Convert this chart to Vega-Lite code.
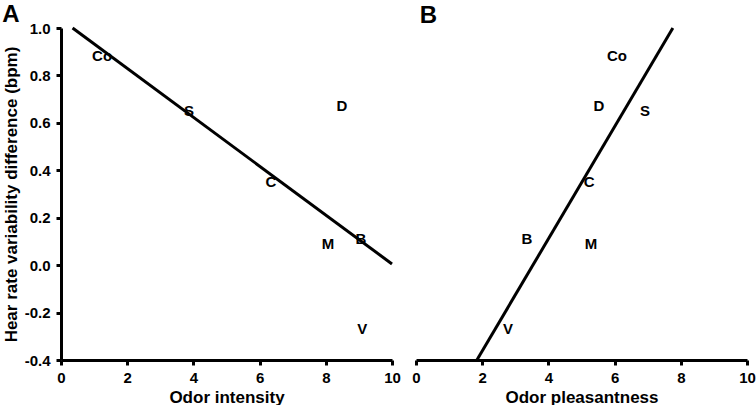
{
  "$schema": "https://vega.github.io/schema/vega-lite/v6.json",
  "background": "white",
  "padding": {"left": 2, "top": 3, "right": 0, "bottom": 0},
  "spacing": 10,
  "datasets": {
    "pointsA": [
      {"x": 1.24, "y": 0.88, "label": "Co"},
      {"x": 3.87, "y": 0.65, "label": "S"},
      {"x": 8.49, "y": 0.67, "label": "D"},
      {"x": 6.34, "y": 0.35, "label": "C"},
      {"x": 8.07, "y": 0.09, "label": "M"},
      {"x": 9.06, "y": 0.11, "label": "B"},
      {"x": 9.1, "y": -0.27, "label": "V"}
    ],
    "lineA": [
      {"x": 0.35, "y": 1.0},
      {"x": 10.0, "y": 0.005}
    ],
    "pointsB": [
      {"x": 6.07, "y": 0.88, "label": "Co"},
      {"x": 5.53, "y": 0.67, "label": "D"},
      {"x": 6.92, "y": 0.65, "label": "S"},
      {"x": 5.23, "y": 0.35, "label": "C"},
      {"x": 3.35, "y": 0.11, "label": "B"},
      {"x": 5.29, "y": 0.09, "label": "M"},
      {"x": 2.78, "y": -0.27, "label": "V"}
    ],
    "lineB": [
      {"x": 1.84, "y": -0.4},
      {"x": 7.76, "y": 1.0}
    ]
  },
  "hconcat": [
    {
      "width": 331,
      "height": 332,
      "title": {"text": "A", "anchor": "start", "dx": 0, "fontSize": 24, "fontWeight": "bold", "offset": -6},
      "layer": [
        {
          "data": {"name": "lineA"},
          "mark": {"type": "line", "color": "black", "strokeWidth": 3},
          "encoding": {
            "x": {"field": "x", "type": "quantitative", "scale": {"domain": [0, 10], "nice": false}, "axis": {"values": [0, 2, 4, 6, 8, 10], "title": "Odor intensity"}},
            "y": {"field": "y", "type": "quantitative", "scale": {"domain": [-0.4, 1.0], "nice": false, "zero": false}, "axis": {"values": [-0.4, -0.2, 0, 0.2, 0.4, 0.6, 0.8, 1.0], "format": ".1f", "title": "Hear rate variability difference (bpm)"}}
          }
        },
        {
          "data": {"name": "pointsA"},
          "mark": {"type": "text", "fontWeight": "bold", "fontSize": 15, "font": "Liberation Sans", "color": "black"},
          "encoding": {
            "x": {"field": "x", "type": "quantitative"},
            "y": {"field": "y", "type": "quantitative"},
            "text": {"field": "label"}
          }
        }
      ]
    },
    {
      "width": 331,
      "height": 332,
      "title": {"text": "B", "anchor": "start", "dx": 8, "fontSize": 24, "fontWeight": "bold", "offset": -6},
      "layer": [
        {
          "data": {"name": "lineB"},
          "mark": {"type": "line", "color": "black", "strokeWidth": 3},
          "encoding": {
            "x": {"field": "x", "type": "quantitative", "scale": {"domain": [0, 10], "nice": false}, "axis": {"values": [0, 2, 4, 6, 8, 10], "title": "Odor pleasantness"}},
            "y": {"field": "y", "type": "quantitative", "scale": {"domain": [-0.4, 1.0], "nice": false, "zero": false}, "axis": null}
          }
        },
        {
          "data": {"name": "pointsB"},
          "mark": {"type": "text", "fontWeight": "bold", "fontSize": 15, "font": "Liberation Sans", "color": "black"},
          "encoding": {
            "x": {"field": "x", "type": "quantitative"},
            "y": {"field": "y", "type": "quantitative"},
            "text": {"field": "label"}
          }
        }
      ]
    }
  ],
  "config": {
    "locale": {"number": {"decimal": ".", "thousands": ",", "grouping": [3], "currency": ["$", ""], "minus": "-"}},
    "font": "Liberation Sans",
    "view": {"stroke": null},
    "title": {"font": "Liberation Sans", "color": "black"},
    "axis": {
      "grid": false,
      "domainColor": "black",
      "domainWidth": 3,
      "tickColor": "black",
      "tickWidth": 3,
      "tickSize": 5,
      "labelFont": "Liberation Sans",
      "labelFontSize": 15,
      "labelFontWeight": "bold",
      "labelColor": "black",
      "labelPadding": 6,
      "titleFont": "Liberation Sans",
      "titleFontSize": 17,
      "titleFontWeight": "bold",
      "titleColor": "black",
      "labelFlush": false,
      "labelOverlap": false
    },
    "axisX": {"titlePadding": 4, "labelPadding": 5},
    "axisY": {"titlePadding": 4}
  }
}
